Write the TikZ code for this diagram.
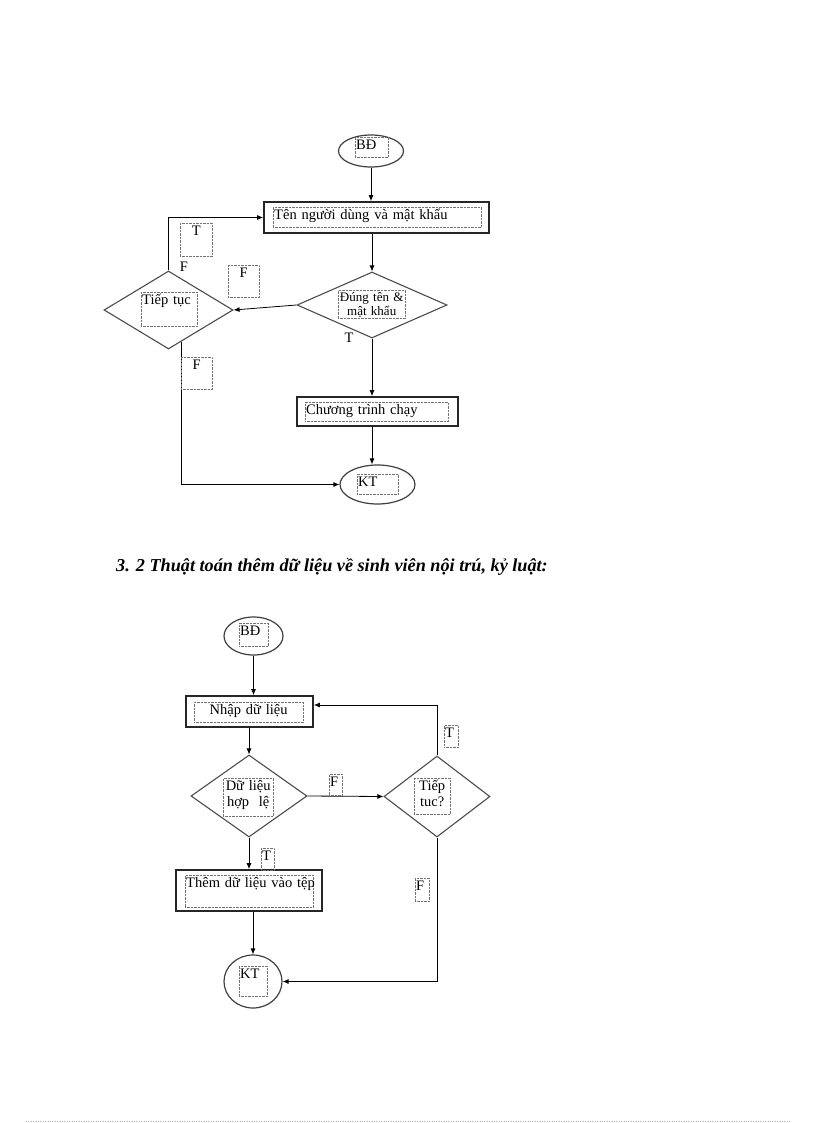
\documentclass[tikz,border=0pt]{standalone}
\usepackage{fontspec}
\setmainfont{Liberation Serif}
\usetikzlibrary{shapes.geometric,calc,arrows.meta}
\tikzset{
    term/.style 2 args={ellipse,draw=black!75,line width=1.2pt,minimum width=#1,minimum height=#2,inner sep=0pt},
    proc/.style 2 args={rectangle,draw=black!85,line width=1.7pt,minimum width=#1,minimum height=#2,inner sep=0pt},
    cond/.style 2 args={diamond,draw=black!70,line width=1.1pt,minimum width=#1,minimum height=#2,inner sep=0pt},
    tag/.style 2 args={draw=black!55,densely dotted,thin,anchor=north west,inner xsep=1pt,inner ysep=1.5pt,text height=11pt,text width=#1,text depth=#2,align=left},
    flow/.style={draw=black,line width=0.8pt,->}
}

\begin{document}
\begin{tikzpicture}[x=1pt,y=-1pt,>={Latex[length=6pt,width=5pt]},font=\fontsize{14.5}{16}\selectfont]
  \fill[white] (0,0) rectangle (816,1123);
  \useasboundingbox (0,0) rectangle (816,1123);

  % Login
  \node[term={65pt}{32pt}] (bda) at (371,151) {};
  \node[proc={225pt}{31pt}] (ten) at (376.5,217.5) {};
  \node[cond={150pt}{66pt}] (dung) at (372,305) {};
  \node[cond={129pt}{78pt}] (tiep) at (168.5,310) {};
  \node[proc={161pt}{29pt}] (chuong) at (377.5,411.5) {};
  \node[term={75pt}{39pt}] (kta) at (377.5,484.5) {};

  \node[tag={31pt}{6pt}] (bdatxt) at (355,137) {BĐ};
  \node[tag={206pt}{6pt}] (tentxt) at (273,207) {Tên người dùng và mật khẩu};
  \node[tag={65pt}{15pt},align=center,text height=10pt,font=\fontsize{13}{13.5}\selectfont] (dungtxt) at (338,290) {Đúng tên \&\\mật khẩu};
  \node[tag={54pt}{20pt}] (tieptxt) at (141,292) {Tiếp tục};
  \node[tag={141pt}{5pt}] (chuongtxt) at (305,402) {Chương trình chạy};
  \node[tag={39pt}{6pt}] (ktatxt) at (357,474) {KT};

  \draw[flow] (bda.south) -- (bda.south |- ten.north);
  \draw[flow] (ten.south -| dung) -- (dung.north);
  \draw[flow] (dung.west) -- (tiep.east);
  \draw[flow] (tiep.north) |- (ten.west);
  \draw[flow] (dung.south) -- (dung.south |- chuong.north);
  \draw[flow] (chuong.south -| dung) -- (kta.north -| dung);
  \coordinate (tiepout) at ($(tiep.south)!0.2!(tiep.east)$);
  \draw[flow] (tiepout) |- (kta.west);

  \node[tag={30pt}{19pt},align=center] (ta) at (180,223) {T};
  \node (fa) at (184,267) {F};
  \node[tag={29pt}{18pt},align=center] (fb) at (228,265) {F};
  \node (tb) at (349,338) {T};
  \node[tag={29pt}{18pt},align=center] (fc) at (181,357) {F};

  % Heading
  \node[anchor=base west,inner sep=0pt,font=\bfseries\itshape\fontsize{18.2}{20}\selectfont] (head) at (116,571) {3. 2 Thuật toán thêm dữ liệu về sinh viên nội trú, kỷ luật:};

  % Add data
  \node[term={59pt}{38pt}] (bdb) at (253.5,636) {};
  \node[proc={127pt}{31pt}] (nhap) at (249.5,711.5) {};
  \node[cond={116pt}{82pt}] (hople) at (249,796) {};
  \node[cond={106pt}{81pt}] (tieq) at (437,796.5) {};
  \node[proc={146pt}{41pt}] (them) at (249,890.5) {};
  \node[term={58pt}{53pt}] (ktb) at (253,981.5) {};

  \node[tag={27pt}{9pt}] (bdbtxt) at (239,623) {BĐ};
  \node[tag={107pt}{6pt},align=center] (nhaptxt) at (194,702) {Nhập dữ liệu};
  \node[tag={48pt}{24pt},align=center] (hopletxt) at (223,778) {Dữ liệu\\hợp~ lệ};
  \node[tag={34pt}{22pt},align=center] (tieqtxt) at (414,778) {Tiếp\\tuc?};
  \node[tag={126pt}{18pt}] (themtxt) at (185,875) {\mbox{Thêm dữ liệu vào tệp}};
  \node[tag={26pt}{16pt}] (ktbtxt) at (239,966) {KT};

  \draw[flow] (bdb.south) -- (bdb.south |- nhap.north);
  \draw[flow] (nhap.south -| hople) -- (hople.north);
  \draw[flow] (hople.east) -- (tieq.west);
  \draw[flow] (tieq.north) |- ([yshift=6.5pt]nhap.east);
  \draw[flow] (hople.south) -- (hople.south |- them.north);
  \draw[flow] (them.south -| ktb) -- (ktb.north);
  \draw[flow] (tieq.south) |- (ktb.east);

  \node[tag={11pt}{7pt}] (fd) at (329,774) {F};
  \node[tag={12pt}{8pt}] (tc) at (444,725) {T};
  \node[tag={11pt}{8pt}] (td) at (261,848) {T};
  \node[tag={12pt}{9pt}] (fe) at (415,878) {F};

  % Page rule
  \draw[black!30,dotted] (26,1121) -- (791,1121);
\end{tikzpicture}
\end{document}
